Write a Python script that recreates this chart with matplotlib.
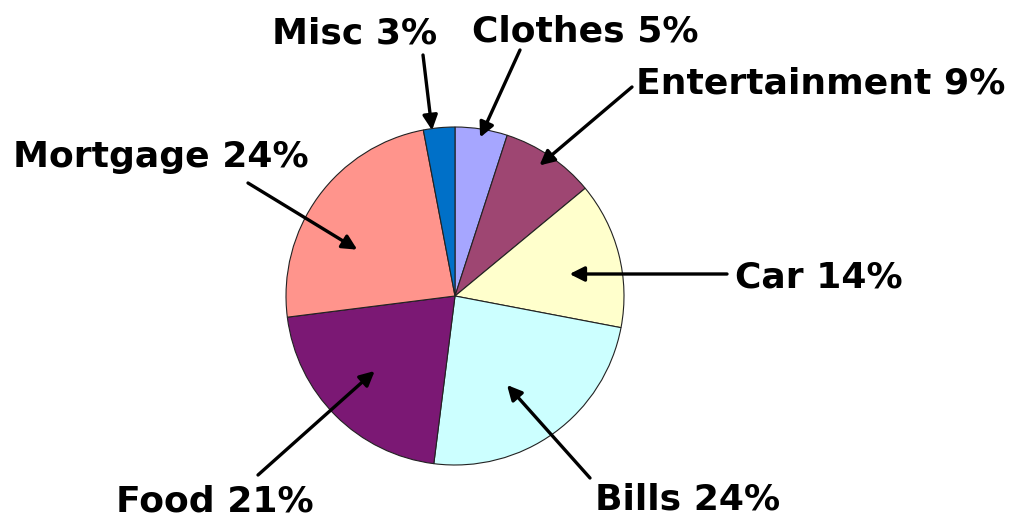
import numpy as np
import matplotlib.pyplot as plt

# Data
categories = ['Clothes', 'Entertainment', 'Car', 'Bills', 'Food', 'Mortgage', 'Misc']
percents = [5, 9, 14, 24, 21, 24, 3]
colors = ['#a6a6ff', '#9e4672', '#ffffcc', '#ccffff', '#7b1874', '#ff948c', '#0070c8']

# Layout (pixel coordinates, y measured from top of image)
W, H = 1016, 517
center_px = (455, 296)
radius_px = 169
# text anchor (x, baseline y, horizontal alignment)
label_pos = {
    'Clothes': (585, 41, 'center'),
    'Entertainment': (636, 93, 'left'),
    'Car': (735, 288, 'left'),
    'Bills': (688, 510, 'center'),
    'Food': (215, 512, 'center'),
    'Mortgage': (161, 167, 'center'),
    'Misc': (355, 43, 'center'),
}
# arrow tails in pixels; heads sit inside the wedge
# (fraction of the wedge angle measured clockwise from its start, fraction of radius)
arrow_tail = {
    'Clothes': (520, 50),
    'Entertainment': (632, 87),
    'Car': (727, 274),
    'Bills': (590, 478),
    'Food': (258, 475),
    'Mortgage': (248, 183),
    'Misc': (423, 55),
}
arrow_head = {
    'Clothes': (0.5, 0.95),
    'Entertainment': (0.46, 0.92),
    'Car': (0.57, 0.69),
    'Bills': (0.566, 0.61),
    'Food': (0.526, 0.65),
    'Mortgage': (0.377, 0.64),
    'Misc': (0.27, 0.99),
}

fig = plt.figure(figsize=(W / 100, H / 100), dpi=100)
ax = fig.add_axes([0, 0, 1, 1])

cx, cy = center_px[0], H - center_px[1]
wedges, _ = ax.pie(percents, colors=colors, startangle=90, counterclock=False,
                   center=(cx, cy), radius=radius_px, frame=True,
                   wedgeprops=dict(edgecolor='#222222', linewidth=0.8))
ax.set_xlim(0, W)
ax.set_ylim(0, H)
ax.set_aspect('equal')
ax.axis('off')

for w, name, pct in zip(wedges, categories, percents):
    tx, ty, ha = label_pos[name]
    ax.text(tx, H - ty, f'{name} {pct}%', ha=ha, va='baseline',
            fontsize=26, fontweight='bold', family='DejaVu Sans', color='black')
    fa, fr = arrow_head[name]
    # clockwise pie: theta2 is the edge where the wedge starts
    ang = np.deg2rad(w.theta2 - fa * (w.theta2 - w.theta1))
    hx = cx + fr * radius_px * np.cos(ang)
    hy = cy + fr * radius_px * np.sin(ang)
    sx, sy = arrow_tail[name]
    ax.annotate('', xy=(hx, hy), xytext=(sx, H - sy),
                arrowprops=dict(arrowstyle='-|>', color='black', lw=2.4,
                                mutation_scale=22, shrinkA=0, shrinkB=0))

fig.savefig('out.png', dpi=100)
